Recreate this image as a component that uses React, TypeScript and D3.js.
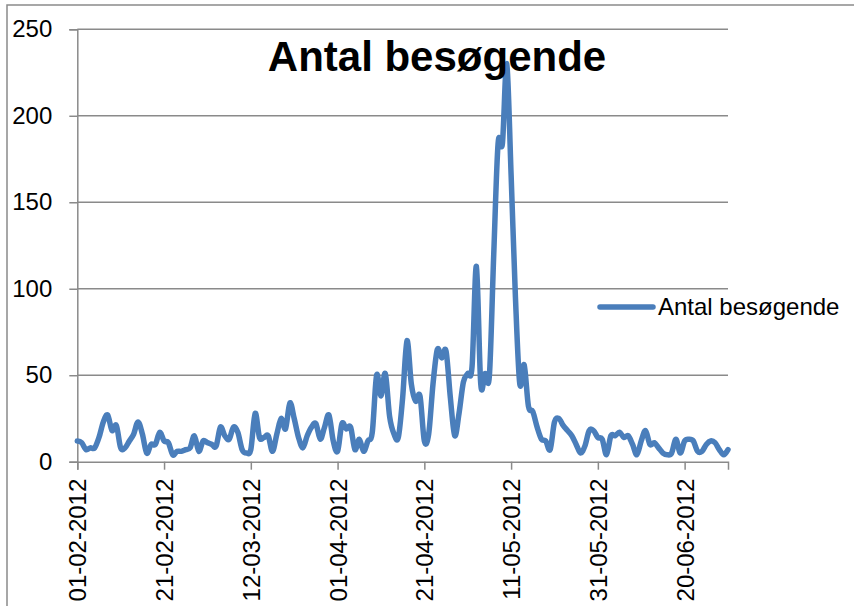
import { useEffect, useRef } from 'react';
import * as d3 from 'd3';

// daily visitor counts, 01-02-2012 .. 30-06-2012
const startDate = '01-02-2012';
const endDate = '30-06-2012';
const visitors = [
  12, 11, 7, 8, 8, 14, 23, 27, 18, 21,
  8, 8, 12, 16, 23, 16, 5, 10, 10, 17,
  12, 11, 4, 6, 6, 7, 8, 15, 6, 12,
  11, 10, 9, 20, 15, 13, 20, 17, 7, 5,
  7, 28, 14, 14, 15, 6, 16, 25, 19, 34,
  25, 14, 8, 15, 20, 22, 13, 20, 27, 12,
  6, 22, 19, 20, 7, 13, 6, 12, 17, 50,
  38, 51, 26, 16, 14, 37, 70, 45, 35, 38,
  12, 16, 45, 65, 60, 64, 37, 15, 28, 46,
  51, 55, 113, 45, 51, 50, 120, 184, 184, 230,
  166, 95, 45, 56, 32, 29, 20, 13, 12, 7,
  23, 25, 21, 18, 15, 10, 5, 9, 18, 18,
  14, 13, 4, 15, 15, 17, 14, 15, 10, 4,
  12, 18, 10, 11, 8, 5, 4, 5, 13, 5,
  12, 13, 12, 6, 6, 10, 12, 11, 7, 4,
  7,
];
const xTickLabels = [
  '01-02-2012', '21-02-2012', '12-03-2012', '01-04-2012',
  '21-04-2012', '11-05-2012', '31-05-2012', '20-06-2012',
];
const yTicks = [0, 50, 100, 150, 200, 250];
const seriesName = 'Antal besøgende';
const chartTitle = 'Antal besøgende';

const W = 854;
const H = 606;

export default function App() {
  const svgRef = useRef<SVGSVGElement>(null);

  useEffect(() => {
    if (!svgRef.current) return;
    const svg = d3.select(svgRef.current);
    svg.selectAll('*').remove();

    const parse = d3.timeParse('%d-%m-%Y');
    const start = parse(startDate)!;
    const end = parse(endDate)!;
    const days = d3.timeDay.range(start, d3.timeDay.offset(end, 1));
    const data = days.map((d, i) => ({ date: d, value: visitors[i] }));

    const margin = { top: 29.3, right: 126, bottom: 144.3, left: 77.3 };
    const x = d3.scaleTime()
      .domain([start, end])
      .range([margin.left, W - margin.right]);
    const y = d3.scaleLinear()
      .domain([0, 250])
      .range([H - margin.bottom, margin.top]);

    const font = '"Liberation Sans", Arial, sans-serif';
    const grid = '#8a8a8a';

    // outer chart border
    svg.append('rect')
      .attr('x', 7).attr('y', 5)
      .attr('width', W + 20).attr('height', H + 20)
      .attr('fill', 'none')
      .attr('stroke', grid)
      .attr('stroke-width', 1.5);

    // horizontal gridlines
    svg.append('g')
      .selectAll('line')
      .data(yTicks.filter(t => t > 0))
      .join('line')
      .attr('x1', x.range()[0]).attr('x2', x.range()[1])
      .attr('y1', d => y(d)).attr('y2', d => y(d))
      .attr('stroke', grid)
      .attr('stroke-width', 1.5);

    // y axis
    const yAxis = svg.append('g')
      .attr('transform', `translate(${margin.left},0)`)
      .call(d3.axisLeft(y).tickValues(yTicks).tickSize(8).tickPadding(17));
    yAxis.select('.domain').attr('stroke', grid).attr('stroke-width', 1.5);
    yAxis.selectAll('.tick line').attr('stroke', grid).attr('stroke-width', 1.5);
    yAxis.selectAll('.tick text')
      .attr('fill', '#000')
      .style('font-family', font)
      .style('font-size', '24px');

    // x axis
    const tickDates = xTickLabels.map(s => parse(s)!);
    const xAxis = svg.append('g')
      .attr('transform', `translate(0,${y(0)})`)
      .call(d3.axisBottom(x)
        .tickValues(tickDates)
        .tickSize(8)
        .tickFormat((d, i) => xTickLabels[i]));
    xAxis.select('.domain').attr('stroke', grid).attr('stroke-width', 1.5);
    xAxis.selectAll('.tick line').attr('stroke', grid).attr('stroke-width', 1.5);
    xAxis.selectAll('.tick text')
      .attr('fill', '#000')
      .attr('transform', 'rotate(-90)')
      .attr('text-anchor', 'end')
      .attr('x', -17)
      .attr('y', 0)
      .attr('dy', '0.36em')
      .style('font-family', font)
      .style('font-size', '24px');

    // series line
    const line = d3.line<{ date: Date; value: number }>()
      .x(d => x(d.date))
      .y(d => y(d.value))
      .curve(d3.curveCardinal.tension(0));

    svg.append('path')
      .datum(data)
      .attr('fill', 'none')
      .attr('stroke', '#4a7ebb')
      .attr('stroke-width', 5.5)
      .attr('stroke-linejoin', 'round')
      .attr('stroke-linecap', 'round')
      .attr('d', line);

    // title
    svg.append('text')
      .attr('x', 437)
      .attr('y', 71)
      .attr('text-anchor', 'middle')
      .style('font-family', font)
      .style('font-weight', 'bold')
      .style('font-size', '42px')
      .text(chartTitle);

    // legend
    const legend = svg.append('g').attr('transform', 'translate(600,307)');
    legend.append('line')
      .attr('x1', 0).attr('x2', 53)
      .attr('stroke', '#4a7ebb')
      .attr('stroke-width', 5.5)
      .attr('stroke-linecap', 'round');
    legend.append('text')
      .attr('x', 58)
      .attr('y', 0)
      .attr('dy', '0.35em')
      .style('font-family', font)
      .style('font-size', '24px')
      .text(seriesName);
  }, []);

  return (
    <svg
      ref={svgRef}
      width={W}
      height={H}
      style={{ position: 'absolute', left: 0, top: 0, background: '#fff' }}
    />
  );
}
